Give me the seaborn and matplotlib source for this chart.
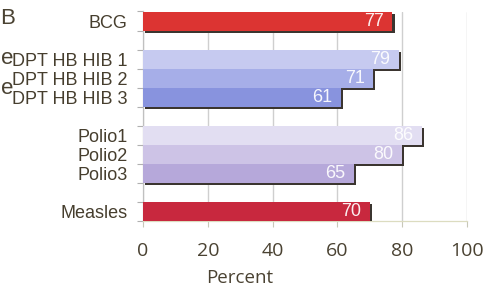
import matplotlib
matplotlib.use("Agg")
import matplotlib.pyplot as plt
import matplotlib.patheffects as pe
import seaborn as sns
import pandas as pd

# ---- data ----
categories = ["BCG", "DPT HB HIB 1", "DPT HB HIB 2", "DPT HB HIB 3",
              "Polio1", "Polio2", "Polio3", "Measles"]
values = [77, 79, 71, 61, 86, 80, 65, 70]
colors = ["#dc3432", "#c6caf0", "#a6aee8", "#8893de",
          "#e2def2", "#cdc3e6", "#b6a8da", "#c8283e"]
# category order with empty spacer slots between groups
order = ["BCG", " ", "DPT HB HIB 1", "DPT HB HIB 2", "DPT HB HIB 3", "  ",
         "Polio1", "Polio2", "Polio3", "   ", "Measles"]
xticks = [0, 20, 40, 60, 80, 100]

df = pd.DataFrame({"vaccine": categories, "percent": values})

sns.set_style("white")
plt.rcParams["font.family"] = ["Liberation Sans", "DejaVu Sans"]

fig = plt.figure(figsize=(4.88, 2.88), dpi=100)
ax = fig.add_axes([143 / 488, 1 - 221 / 288, 324 / 488, 209.5 / 288])

sns.barplot(data=df, x="percent", y="vaccine", order=order, hue="vaccine",
            hue_order=categories, palette=colors, width=1.0, legend=False,
            orient="h", ax=ax, saturation=1, zorder=3)

shadow = [pe.SimplePatchShadow(offset=(1.6, -1.6), shadow_rgbFace="#3b3530",
                               alpha=1.0), pe.Normal()]
for p in ax.patches:
    p.set_path_effects(shadow)
    p.set_edgecolor("none")

# value labels
for cat, v in zip(categories, values):
    ax.text(v - 2.6, order.index(cat), str(v), ha="right", va="center",
            color="white", alpha=0.92, fontsize=13, zorder=5,
            family=["Liberation Sans", "DejaVu Sans"])

ax.set_xlim(0, 100)
ax.set_ylim(len(order) - 0.5, -0.5)
ax.set_xticks(xticks)
ax.set_xticklabels([str(t) for t in xticks], family=["Open Sans", "DejaVu Sans"],
                   fontsize=14, color="#4a4232")
ax.xaxis.grid(True, color="#cfcfcf", linewidth=1.0, zorder=0)
ax.set_axisbelow(True)

ax.set_yticks(range(len(order)))
ax.set_yticklabels(order, fontsize=13, color="#463e2e")
ax.set_yticks([i - 0.5 for i in range(len(order) + 1)], minor=True)
ax.tick_params(axis="y", which="major", length=0, pad=11)
ax.tick_params(axis="y", which="minor", length=4, color="#b0b0b0", width=0.8, left=True)
ax.tick_params(axis="x", which="major", length=4, color="#c8c8b8", width=0.8,
               pad=11, bottom=True)

for s in ["top", "right"]:
    ax.spines[s].set_visible(False)
ax.spines["left"].set_color("#c0c0c0")
ax.spines["left"].set_linewidth(0.9)
ax.spines["bottom"].set_color("#dcdcc0")
ax.spines["bottom"].set_linewidth(0.9)

ax.set_ylabel("")
ax.set_xlabel("Percent", family=["Open Sans", "DejaVu Sans"], fontsize=13.5,
              color="#4a4232")
ax.xaxis.set_label_coords((240 - 143) / 324, -0.23)

# fragments of text at the left edge
for txt, ypx in [("B", 18), ("e", 58), ("e", 88)]:
    fig.text(0.5 / 488, 1 - ypx / 288, txt, ha="left", va="center",
             fontsize=16, color="#4a4232")

fig.savefig("out.png", dpi=100)
